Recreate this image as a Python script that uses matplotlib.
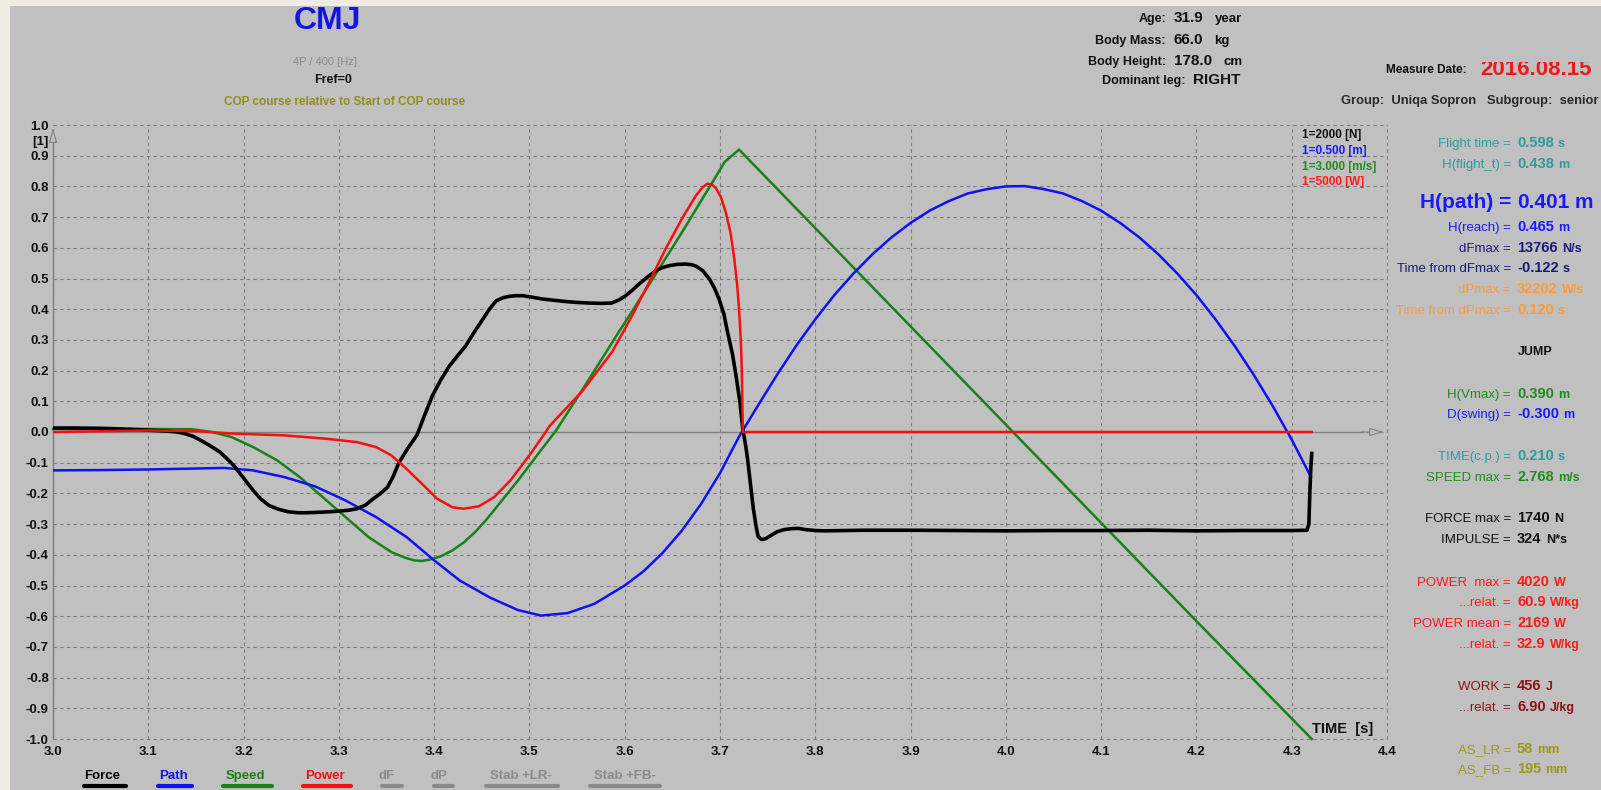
import matplotlib
matplotlib.use("Agg")
import matplotlib.pyplot as plt
from matplotlib.patches import Rectangle
from matplotlib.transforms import Bbox

plt.rcParams['font.family'] = ['Liberation Sans', 'DejaVu Sans']

# ---------------- data (scaled units) ----------------
force_t = [3.000, 3.020, 3.050, 3.080, 3.100, 3.120, 3.130, 3.138, 3.147, 3.155, 3.165,
           3.175, 3.183, 3.190, 3.200, 3.210, 3.218, 3.227, 3.237, 3.247, 3.257, 3.267,
           3.283, 3.299, 3.310, 3.319, 3.328, 3.335, 3.343, 3.351, 3.357, 3.363, 3.372,
           3.382, 3.390, 3.398, 3.407, 3.416, 3.425, 3.433, 3.442, 3.451, 3.458, 3.465,
           3.472, 3.479, 3.486, 3.493, 3.503, 3.514, 3.526, 3.538, 3.550, 3.563, 3.575,
           3.586, 3.594, 3.601, 3.608, 3.615, 3.624, 3.633, 3.640, 3.647, 3.655, 3.664,
           3.670, 3.675, 3.682, 3.689, 3.694, 3.699, 3.704, 3.708, 3.713, 3.717, 3.721,
           3.724, 3.727, 3.729, 3.732, 3.735, 3.738, 3.740, 3.743, 3.745, 3.748, 3.752,
           3.756, 3.760, 3.767, 3.775, 3.782, 3.790, 3.800, 3.810, 3.850, 3.900, 3.950,
           4.000, 4.050, 4.100, 4.150, 4.200, 4.250, 4.300, 4.316, 4.318, 4.319, 4.320,
           4.321]
force_v = [0.013, 0.013, 0.012, 0.009, 0.006, 0.003, 0.000, -0.005, -0.014, -0.027, -0.045,
           -0.065, -0.088, -0.110, -0.150, -0.190, -0.218, -0.240, -0.252, -0.260, -0.263, -0.263,
           -0.261, -0.258, -0.255, -0.250, -0.238, -0.220, -0.202, -0.180, -0.145, -0.100, -0.055,
           -0.010, 0.055, 0.117, 0.170, 0.215, 0.250, 0.280, 0.325, 0.367, 0.400, 0.427,
           0.437, 0.442, 0.444, 0.444, 0.439, 0.433, 0.429, 0.425, 0.422, 0.420, 0.419,
           0.420, 0.430, 0.444, 0.462, 0.482, 0.505, 0.526, 0.536, 0.542, 0.546, 0.547,
           0.545, 0.540, 0.525, 0.498, 0.470, 0.433, 0.385, 0.324, 0.255, 0.180, 0.095,
           0.008, -0.045, -0.090, -0.170, -0.250, -0.310, -0.340, -0.349, -0.350, -0.347, -0.340,
           -0.332, -0.325, -0.318, -0.315, -0.314, -0.318, -0.321, -0.322, -0.320, -0.320, -0.321,
           -0.322, -0.321, -0.321, -0.320, -0.322, -0.321, -0.321, -0.320, -0.300, -0.200, -0.120,
           -0.070]

path_t = [3.000, 3.050, 3.100, 3.150, 3.180, 3.210, 3.243, 3.275, 3.307, 3.339, 3.371,
          3.400, 3.427, 3.459, 3.488, 3.512, 3.540, 3.568, 3.600, 3.620, 3.640, 3.660,
          3.680, 3.700, 3.720, 3.740, 3.760, 3.780, 3.800, 3.820, 3.840, 3.860, 3.880,
          3.900, 3.920, 3.940, 3.960, 3.980, 4.000, 4.020, 4.040, 4.060, 4.080, 4.100,
          4.120, 4.140, 4.160, 4.180, 4.200, 4.220, 4.240, 4.260, 4.280, 4.300, 4.320]
path_v = [-0.125, -0.124, -0.122, -0.119, -0.117, -0.125, -0.147, -0.177, -0.223, -0.277, -0.342,
          -0.418, -0.484, -0.540, -0.580, -0.598, -0.590, -0.560, -0.500, -0.453, -0.393, -0.321,
          -0.235, -0.134, -0.015, 0.087, 0.187, 0.281, 0.367, 0.446, 0.516, 0.579, 0.634,
          0.681, 0.721, 0.752, 0.777, 0.791, 0.800, 0.801, 0.791, 0.777, 0.752, 0.721,
          0.681, 0.634, 0.579, 0.516, 0.446, 0.367, 0.281, 0.187, 0.085, -0.025, -0.145]

speed_t = [3.000, 3.100, 3.146, 3.167, 3.187, 3.210, 3.235, 3.259, 3.283, 3.307, 3.331,
           3.355, 3.370, 3.379, 3.387, 3.395, 3.407, 3.419, 3.431, 3.443, 3.455, 3.467,
           3.488, 3.508, 3.528, 3.556, 3.591, 3.626, 3.661, 3.689, 3.705, 3.720, 3.800,
           4.000, 4.200, 4.321]
speed_v = [0.010, 0.010, 0.009, 0.000, -0.016, -0.049, -0.092, -0.147, -0.212, -0.277, -0.342,
           -0.391, -0.410, -0.418, -0.420, -0.416, -0.405, -0.386, -0.360, -0.326, -0.285, -0.239,
           -0.158, -0.076, 0.005, 0.140, 0.312, 0.482, 0.655, 0.798, 0.880, 0.920, 0.664,
           0.024, -0.616, -1.000]

power_t = [3.000, 3.100, 3.150, 3.187, 3.243, 3.287, 3.319, 3.339, 3.355, 3.371, 3.387,
           3.403, 3.419, 3.431, 3.447, 3.463, 3.480, 3.500, 3.516, 3.521, 3.556, 3.587,
           3.608, 3.626, 3.643, 3.661, 3.675, 3.682, 3.687, 3.692, 3.696, 3.701, 3.706,
           3.711, 3.715, 3.718, 3.720, 3.722, 3.723, 3.724, 4.321]
power_v = [0.000, 0.005, 0.003, -0.005, -0.011, -0.022, -0.033, -0.049, -0.076, -0.120, -0.168,
           -0.217, -0.245, -0.250, -0.242, -0.212, -0.158, -0.076, -0.005, 0.019, 0.135, 0.262,
           0.380, 0.490, 0.597, 0.700, 0.771, 0.798, 0.809, 0.805, 0.793, 0.765, 0.716,
           0.650, 0.564, 0.480, 0.400, 0.290, 0.182, 0.000, 0.000]

x_ticks = [3.0, 3.1, 3.2, 3.3, 3.4, 3.5, 3.6, 3.7, 3.8, 3.9, 4.0, 4.1, 4.2, 4.3, 4.4]
y_ticks = [-1.0, -0.9, -0.8, -0.7, -0.6, -0.5, -0.4, -0.3, -0.2, -0.1, 0.0,
           0.1, 0.2, 0.3, 0.4, 0.5, 0.6, 0.7, 0.8, 0.9, 1.0]

scale_labels = ["1=2000 [N]", "1=0.500 [m]", "1=3.000 [m/s]", "1=5000 [W]"]
legend_names = ["Force", "Path", "Speed", "Power", "dF", "dP", "Stab +LR-", "Stab +FB-"]

# (label, value, unit, color)
results = [
    ("Flight time", "0.598", "s", "#2b9c9c"),
    ("H(flight_t)", "0.438", "m", "#2b9c9c"),
    ("H(path)", "0.401", "m", "#1a1aff"),
    ("H(reach)", "0.465", "m", "#1a1aff"),
    ("dFmax", "13766", "N/s", "#1c1c78"),
    ("Time from dFmax", "-0.122", "s", "#1c1c78"),
    ("dPmax", "32202", "W/s", "#ff9a3a"),
    ("Time from dPmax", "0.120", "s", "#ff9a3a"),
    ("H(Vmax)", "0.390", "m", "#1e8c1e"),
    ("D(swing)", "-0.300", "m", "#1a1aff"),
    ("TIME(c.p.)", "0.210", "s", "#2b9c9c"),
    ("SPEED max", "2.768", "m/s", "#1e8c1e"),
    ("FORCE max", "1740", "N", "#111111"),
    ("IMPULSE", "324", "N*s", "#111111"),
    ("POWER  max", "4020", "W", "#ff1a1a"),
    ("...relat.", "60.9", "W/kg", "#ff1a1a"),
    ("POWER mean", "2169", "W", "#ff1a1a"),
    ("...relat.", "32.9", "W/kg", "#ff1a1a"),
    ("WORK", "456", "J", "#8b1414"),
    ("...relat.", "6.90", "J/kg", "#8b1414"),
    ("AS_LR", "58", "mm", "#9a9a1a"),
    ("AS_FB", "195", "mm", "#9a9a1a"),
]
result_y = [142, 163, 200, 226, 247, 267, 288, 309, 393, 413, 455, 476,
            517, 538, 581, 601, 622, 643, 685, 706, 748, 768]

info = [("Age:", "31.9", "year"), ("Body Mass:", "66.0", "kg"),
        ("Body Height:", "178.0", "cm"), ("Dominant leg:", "RIGHT", "")]
info_y = [17, 39, 60, 79]

# ---------------- figure ----------------
W, H = 1601, 790
BG = "#c0c0c0"
fig = plt.figure(figsize=(W / 100, H / 100), dpi=100, facecolor=BG)

ov = fig.add_axes([0, 0, 1, 1], zorder=-1)
ov.set_xlim(0, W)
ov.set_ylim(H, 0)
ov.axis("off")
ov.add_patch(Rectangle((0, 0), W, 6, color="#efece4", lw=0))
ov.add_patch(Rectangle((0, 0), 10, H, color="#efece4", lw=0))

L, R, T, B = 53, 1387, 125, 739
ax = fig.add_axes([L / W, (H - B) / H, (R - L) / W, (B - T) / H])
ax.set_facecolor("none")
ax.set_xlim(3.0, 4.4)
ax.set_ylim(-1.0, 1.0)
ax.set_xticks(x_ticks)
ax.set_yticks(y_ticks)
ax.set_xticklabels([f"{v:.1f}" for v in x_ticks], fontsize=9.5, fontweight="bold")
ax.set_yticklabels([f"{v:.1f}" for v in y_ticks], fontsize=9.5, fontweight="bold")
ax.tick_params(length=0, pad=5, colors="#111111")
ax.tick_params(axis="y", pad=3)
for s in ax.spines.values():
    s.set_visible(False)
ax.grid(True, color="#7a7a7a", lw=0.8, ls=(0, (3, 3)))
for gl in ax.get_xgridlines() + ax.get_ygridlines():
    gl.set_clip_on(False)

# axes lines with arrows
ax.plot([3.0, 3.0], [-1.0, 0.97], color="#808080", lw=1.0, clip_on=False, zorder=2)
ax.plot([3.0, 4.375], [0.0, 0.0], color="#808080", lw=1.0, clip_on=False, zorder=2)
ax.annotate("", xy=(4.4, 0.0), xytext=(4.37, 0.0),
            arrowprops=dict(arrowstyle="-|>,head_length=0.9,head_width=0.25",
                            ec="#808080", fc=BG, lw=0.8), annotation_clip=False)
ax.annotate("", xy=(3.0, 1.0), xytext=(3.0, 0.96),
            arrowprops=dict(arrowstyle="-|>,head_length=0.9,head_width=0.25",
                            ec="#808080", fc=BG, lw=0.8), annotation_clip=False)

ax.plot(speed_t, speed_v, color="#178217", lw=1.8, zorder=3, clip_on=False)
ax.plot(path_t, path_v, color="#1010f5", lw=1.8, zorder=3)
ax.plot(force_t, force_v, color="#000000", lw=2.6, zorder=4)
ax.plot(power_t, power_v, color="#f51010", lw=1.8, zorder=5)

# ---------------- texts ----------------
tx = fig.add_axes([0, 0, 1, 1], zorder=10)
tx.set_xlim(0, W)
tx.set_ylim(H, 0)
tx.axis("off")

tx.text(327, 21, "CMJ", color="#1414e6", fontsize=23, fontweight="bold", ha="center", va="center")
tx.text(325, 62, "4P / 400 [Hz]", color="#8a8a8a", fontsize=8, ha="center", va="center")
tx.text(333, 80, "Fref=0", color="#111111", fontsize=9, fontweight="bold", ha="center", va="center")
tx.text(345, 102, "COP course relative to Start of COP course", color="#8f8f20",
        fontsize=8.5, fontweight="bold", ha="center", va="center")

info_colon_x = [1166, 1166, 1166, 1185]
for (lab, val, unit), yc, xc in zip(info, info_y, info_colon_x):
    yb = yc + 5
    tx.text(xc, yb, lab, fontsize=9, fontweight="bold", color="#111111", ha="right", va="baseline")
    v = tx.text(xc + 8, yb, val, fontsize=11, fontweight="bold", color="#111111", ha="left", va="baseline")
    if unit:
        tx.annotate(unit, xy=(1, 0), xycoords=v, xytext=(8, 0), textcoords="offset points",
                    fontsize=9.5, fontweight="bold", color="#111111", ha="left", va="bottom")

tx.text(1467, 73, "Measure Date:", fontsize=8.5, fontweight="bold", color="#111111", ha="right", va="baseline")
date = tx.text(1480, 75, "2016.08.15", fontsize=16, fontweight="bold", color="#f01818", ha="left", va="baseline")
date.set_clip_on(True)
date.set_clip_box(Bbox([[1460, 0], [W, H - 62]]))
tx.text(1341, 104, "Group:  Uniqa Sopron   Subgroup:  senior", fontsize=9.4, fontweight="bold",
        color="#2a2a2a", ha="left", va="baseline")

scale_colors = ["#111111", "#1a1aff", "#1e8c1e", "#ff1a1a"]
for lab, c, yc in zip(scale_labels, scale_colors, [135, 151, 167, 182]):
    tx.text(1302, yc, lab, fontsize=8.5, fontweight="bold", color=c, ha="left", va="center")

tx.text(1343, 729, "TIME  [s]", fontsize=10.5, fontweight="bold", color="#111111", ha="center", va="center")
tx.text(49, 142, "[1]", fontsize=9.5, fontweight="bold", color="#111111", ha="right", va="center")

x_eq = 1511
for (lab, val, unit, c), yc in zip(results, result_y):
    big = lab == "H(path)"
    fl = 15 if big else 9.5
    fv = 15 if big else 10.5
    fu = 15 if big else 9
    yb = yc + (8 if big else 5)
    tx.text(x_eq, yb, lab + " =", fontsize=fl, fontweight="bold" if big else "normal",
            color=c, ha="right", va="baseline")
    v = tx.text(x_eq + 6, yb, val, fontsize=fv, fontweight="bold", color=c, ha="left", va="baseline")
    tx.annotate(unit, xy=(1, 0), xycoords=v, xytext=(4 if big else 3, 0), textcoords="offset points",
                fontsize=fu, fontweight="bold", color=c, ha="left", va="bottom")

tx.text(1535, 352, "JUMP", fontsize=9, fontweight="bold", color="#111111", ha="center", va="center")

# bottom legend
legend_colors = ["#000000", "#1010f5", "#178217", "#f51010",
                 "#8a8a8a", "#8a8a8a", "#8a8a8a", "#8a8a8a"]
legend_x = [(83, 122), (158, 188), (223, 268), (303, 346), (380, 393), (432, 446), (484, 558), (588, 662)]
bar_x = [(84, 126), (158, 192), (223, 272), (303, 351), (382, 402), (434, 453), (486, 558), (590, 660)]
for name, c, (x0, x1), (b0, b1) in zip(legend_names, legend_colors, legend_x, bar_x):
    tx.text((x0 + x1) / 2, 776, name, fontsize=9.5, fontweight="bold", color=c, ha="center", va="center")
    tx.plot([b0, b1], [786, 786], color=c, lw=3, solid_capstyle="round")

fig.savefig("out.png", dpi=100, facecolor=BG)
